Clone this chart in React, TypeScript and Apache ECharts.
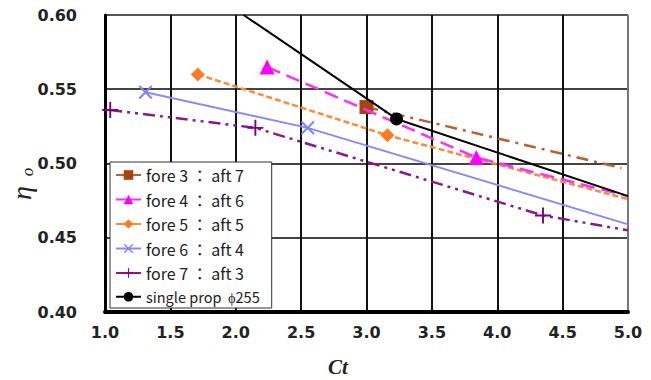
import React, { useEffect, useRef } from "react";
import * as echarts from "echarts";

const xTicks = [1.0, 1.5, 2.0, 2.5, 3.0, 3.5, 4.0, 4.5, 5.0];
const yTicks = [0.4, 0.45, 0.5, 0.55, 0.6];

const seriesNames = [
  "fore 3 ： aft 7",
  "fore 4 ： aft 6",
  "fore 5 ： aft 5",
  "fore 6 ： aft 4",
  "fore 7 ： aft 3",
  "single prop  ϕ255",
];

// [Ct, eta, hasMarker]
const fore3aft7: [number, number, boolean][] = [
  [3.0, 0.538, true],
  [4.95, 0.497, false],
];
const fore4aft6: [number, number, boolean][] = [
  [2.24, 0.565, true],
  [3.84, 0.504, true],
  [5.0, 0.478, false],
];
const fore5aft5: [number, number, boolean][] = [
  [1.71, 0.56, true],
  [3.16, 0.519, true],
  [5.0, 0.476, false],
];
const fore6aft4: [number, number, boolean][] = [
  [1.31, 0.548, true],
  [2.55, 0.524, true],
  [5.0, 0.459, false],
];
const fore7aft3: [number, number, boolean][] = [
  [1.04, 0.536, true],
  [2.15, 0.524, true],
  [4.35, 0.465, true],
  [5.0, 0.455, false],
];
const singleProp: [number, number, boolean][] = [
  [2.06, 0.6, false],
  [3.23, 0.53, true],
  [5.0, 0.478, false],
];

const X_SYMBOL =
  "path://M0,1 L1,0 L5,4 L9,0 L10,1 L6,5 L10,9 L9,10 L5,6 L1,10 L0,9 L4,5 Z";
const PLUS_SYMBOL =
  "path://M4.4,0 H5.6 V4.4 H10 V5.6 H5.6 V10 H4.4 V5.6 H0 V4.4 H4.4 Z";

const toData = (arr: [number, number, boolean][]) =>
  arr.map(([x, y, m]) => (m ? { value: [x, y] } : { value: [x, y], symbol: "none" }));

export default function App() {
  const ref = useRef<HTMLDivElement>(null);
  useEffect(() => {
    if (!ref.current) return;
    const chart = echarts.init(ref.current, null, { renderer: "svg" });
    const mk = (
      name: string,
      arr: [number, number, boolean][],
      color: string,
      lineColor: string,
      symbol: string,
      symbolSize: number,
      type: any,
      width: number,
      z: number
    ) => ({
      type: "line",
      name,
      data: toData(arr),
      symbol,
      symbolSize,
      showAllSymbol: true,
      itemStyle: { color, borderWidth: 0 },
      lineStyle: { color: lineColor, type, width },
      z,
    });
    const xSplitColors = xTicks.map((_, i) => (i === xTicks.length - 1 ? "#777" : "#111"));
    const ySplitColors = yTicks.map((_, i) => (i === yTicks.length - 1 ? "#555" : "#444"));
    chart.setOption({
      animation: false,
      backgroundColor: "#ffffff",
      grid: { left: 105, right: 23, top: 15, bottom: 68, containLabel: false },
      xAxis: {
        type: "value",
        min: 1,
        max: 5,
        interval: 0.5,
        axisLine: { onZero: false, lineStyle: { color: "#000", width: 4 } },
        axisTick: { show: false },
        axisLabel: {
          margin: 12,
          formatter: (v: number) => v.toFixed(1),
          color: "#222",
          fontFamily: "DejaVu Sans",
          fontWeight: "bold",
          fontSize: 16,
        },
        splitLine: { show: true, lineStyle: { color: xSplitColors, width: 2 } },
      },
      yAxis: {
        type: "value",
        min: 0.4,
        max: 0.6,
        interval: 0.05,
        axisLine: { show: true, lineStyle: { color: "#000", width: 3 } },
        axisTick: { show: false },
        axisLabel: {
          margin: 28,
          formatter: (v: number) => v.toFixed(2),
          color: "#222",
          fontFamily: "DejaVu Sans",
          fontWeight: "bold",
          fontSize: 16,
        },
        splitLine: { show: true, lineStyle: { color: ySplitColors, width: 2 } },
      },
      legend: {
        orient: "vertical",
        left: 110,
        top: 162,
        padding: [5, 12, 4, 5],
        itemWidth: 25,
        itemHeight: 12,
        itemGap: 8.5,
        backgroundColor: "#ffffff",
        borderColor: "#333",
        borderWidth: 1,
        lineStyle: { type: "solid" },
        data: seriesNames,
        formatter: (name: string) =>
          name.startsWith("single") ? `{s|${name}}` : `{n|${name}}`,
        textStyle: {
          color: "#222",
          rich: {
            n: { fontFamily: "Noto Sans CJK JP", fontSize: 16, lineHeight: 16, color: "#222" },
            s: { fontFamily: "Noto Sans CJK JP", fontSize: 14.5, lineHeight: 16, color: "#222" },
          },
        },
      },
      graphic: [
        {
          type: "text",
          x: 21,
          y: 193,
          rotation: Math.PI / 2,
          style: {
            text: "η",
            align: "center",
            verticalAlign: "middle",
            font: "italic 28px 'Liberation Serif'",
            fill: "#222",
          },
        },
        {
          type: "text",
          x: 27,
          y: 172,
          rotation: Math.PI / 2,
          style: {
            text: "o",
            align: "center",
            verticalAlign: "middle",
            font: "italic 17px 'Liberation Serif'",
            fill: "#222",
          },
        },
        {
          type: "text",
          x: 338,
          y: 367,
          style: {
            text: "Ct",
            align: "center",
            verticalAlign: "middle",
            font: "italic bold 21px 'Liberation Serif'",
            fill: "#222",
          },
        },
      ],
      series: [
        mk(seriesNames[0], fore3aft7, "#a8420e", "#b8602e", "rect", 14, [12, 6, 3, 6], 2.5, 3),
        mk(seriesNames[1], fore4aft6, "#ff00ff", "#ff2cff", "triangle", 15, [14, 7], 2.5, 4),
        mk(seriesNames[2], fore5aft5, "#ff7a20", "#ff8a35", "diamond", 14, [6, 3], 2.5, 3),
        mk(seriesNames[3], fore6aft4, "#7f7fff", "#8888ff", X_SYMBOL, 14, "solid", 2, 3),
        mk(seriesNames[4], fore7aft3, "#800080", "#8a1a8a", PLUS_SYMBOL, 16, [12, 5, 3, 5, 3, 5], 2.5, 3),
        mk(seriesNames[5], singleProp, "#000000", "#000000", "circle", 13, "solid", 2, 5),
      ],
    });
    return () => chart.dispose();
  }, []);
  return (
    <div
      ref={ref}
      style={{ position: "fixed", left: 0, top: 0, width: 651, height: 380 }}
    />
  );
}
